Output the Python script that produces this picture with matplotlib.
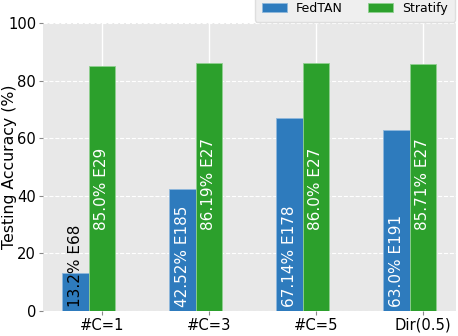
import matplotlib
matplotlib.use("Agg")
import matplotlib.pyplot as plt
import numpy as np

settings = ["#C=1", "#C=3", "#C=5", "Dir(0.5)"]
fedtan_acc = [13.2, 42.52, 67.14, 63.0]
fedtan_epochs = [68, 185, 178, 191]
stratify_acc = [85.0, 86.19, 86.0, 85.71]
stratify_epochs = [29, 27, 27, 27]

x = np.arange(len(settings))
w = 0.25

fig = plt.figure(figsize=(4.58, 3.36), dpi=100)
ax = fig.add_axes([0.094, 0.0744, 0.902, 0.857])
ax.set_facecolor("#e8e8e8")
for s in ax.spines.values():
    s.set_visible(False)

ax.bar(x - w, fedtan_acc, w, color="#2e7bbd", edgecolor="#8fb8dc", linewidth=0.6, label="FedTAN", zorder=3)
ax.bar(x, stratify_acc, w, color="#2ca02c", edgecolor="#8fd08f", linewidth=0.6, label="Stratify", zorder=3)

for i in range(len(settings)):
    c = "black" if fedtan_acc[i] < 30 else "white"
    ax.text(x[i] - w, 1.5, f"{fedtan_acc[i]}% E{fedtan_epochs[i]}", rotation=90,
            ha="center", va="bottom", fontsize=11, color=c, zorder=4)
    ax.text(x[i], 28, f"{stratify_acc[i]}% E{stratify_epochs[i]}", rotation=90,
            ha="center", va="bottom", fontsize=11, color="white", zorder=4)

ax.set_ylim(0, 100)
ax.set_xlim(-0.55, 3.31)
ax.set_xticks(x)
ax.set_xticklabels(settings, fontsize=10.6)
ax.set_yticks([0, 20, 40, 60, 80, 100])
ax.tick_params(axis="y", labelsize=10.6, length=3, color="#888888", pad=2)
ax.tick_params(axis="x", length=3, color="#888888", pad=2)
ax.set_ylabel("Testing Accuracy (%)", fontsize=11.3)
ax.yaxis.set_label_coords(-0.064, 0.5)

ax.yaxis.grid(True, color="white", linestyle="--", linewidth=0.8, zorder=0)
ax.xaxis.grid(True, color="white", linestyle="-", linewidth=1.0, zorder=0)
ax.set_axisbelow(True)

ax.legend(loc="upper right", bbox_to_anchor=(455 / 458, 341 / 336), bbox_transform=fig.transFigure,
          ncol=2, fontsize=9, frameon=True, facecolor="#ececec", edgecolor="#d8d8d8",
          handlelength=2.0, handleheight=0.75, handletextpad=0.75, columnspacing=2.0,
          borderpad=0.55, borderaxespad=0)

fig.savefig("out.png", dpi=100)
